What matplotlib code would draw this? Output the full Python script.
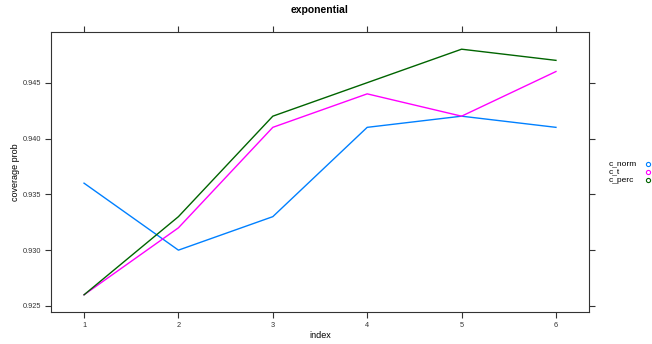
import matplotlib
matplotlib.use('Agg')
import matplotlib.pyplot as plt
import numpy as np

plt.rcParams['font.family'] = ['Liberation Sans', 'DejaVu Sans']

index = [1, 2, 3, 4, 5, 6]
c_norm = [0.936, 0.930, 0.933, 0.941, 0.942, 0.941]
c_t = [0.926, 0.932, 0.941, 0.944, 0.942, 0.946]
c_perc = [0.926, 0.933, 0.942, 0.945, 0.948, 0.947]
series = {'c_norm': c_norm, 'c_t': c_t, 'c_perc': c_perc}
colors = {'c_norm': '#0080ff', 'c_t': '#ff00ff', 'c_perc': '#006400'}
yticks = [0.925, 0.930, 0.935, 0.940, 0.945]

fig = plt.figure(figsize=(6.52, 3.44), dpi=100)
ax = fig.add_axes([51/652, 1 - 312/344, 538/652, 280/344])

for name, vals in series.items():
    ax.plot(index, vals, color=colors[name], lw=1.0)

lo, hi = 0.926, 0.948
pad = (hi - lo) * 0.07
ax.set_ylim(lo - pad, hi + pad)
ax.set_xlim(0.65, 6.35)
ax.set_xticks(index)
ax.set_yticks(yticks)
ax.set_yticklabels([f'{v:.3f}' for v in yticks])
ax.tick_params(direction='out', length=4, width=0.8, labelsize=5.3,
               top=True, right=True, colors='#333333', pad=3)
for s in ax.spines.values():
    s.set_linewidth(0.8)
    s.set_color('#333333')

fig.text(320/652, 1 - 336/344, 'index', fontsize=6.5, ha='center', va='center')
fig.text(16/652, 1 - 172/344, 'coverage prob', fontsize=6.5, ha='center',
         va='center', rotation=90)
fig.text(320/652, 1 - 10/344, 'exponential', fontsize=7.5, fontweight='bold',
         ha='center', va='center')

# legend on the right, lattice style
ly = [164, 172, 180]
for (name, _), y in zip(series.items(), ly):
    fig.text(609/652, 1 - y/344, name, fontsize=6, va='center', ha='left')
    fig.lines.append(plt.Line2D([648/652], [1 - y/344], marker='o', ms=3,
                                mfc='none', mec=colors[name], mew=0.8,
                                transform=fig.transFigure, ls='none'))

fig.savefig('out.png', dpi=100)
